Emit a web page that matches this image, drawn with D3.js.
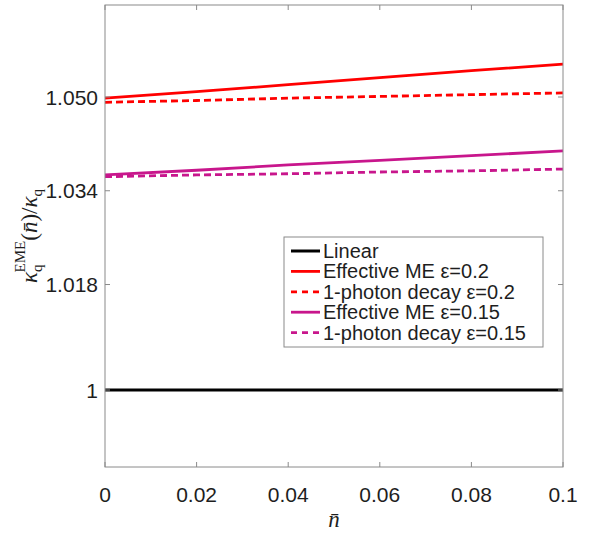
<!doctype html>
<html>
<head>
<meta charset="utf-8">
<style>
  body { margin: 0; background: #fff; }
  text { font-family: "Liberation Sans", Arial, sans-serif; fill: #1e1e1e; }
</style>
</head>
<body>
<div id="chart"></div>
<script src="https://d3js.org/d3.v7.min.js"></script>
<script>
// values
var nbar = [0, 0.02, 0.04, 0.06, 0.08, 0.1];
var linear = [1, 1, 1, 1, 1, 1];
var effME02 = [1.0498, 1.0509, 1.0521, 1.0533, 1.0545, 1.0556];
var decay02 = [1.0491, 1.0494, 1.0498, 1.0501, 1.0504, 1.0507];
var effME015 = [1.0367, 1.0375, 1.0384, 1.0392, 1.0400, 1.0408];
var decay015 = [1.0364, 1.0367, 1.0369, 1.0372, 1.0374, 1.0377];
var xTicks = [0, 0.02, 0.04, 0.06, 0.08, 0.1];
var xTickLabels = ['0', '0.02', '0.04', '0.06', '0.08', '0.1'];
var yTicks = [1, 1.018, 1.034, 1.050];
var yTickLabels = ['1', '1.018', '1.034', '1.050'];
var names = ['Linear', 'Effective ME \u03b5=0.2', '1-photon decay \u03b5=0.2',
             'Effective ME \u03b5=0.15', '1-photon decay \u03b5=0.15'];

var series = [
  { name: names[0], vals: linear, color: '#000000', dash: null, w: 3 },
  { name: names[1], vals: effME02, color: '#ff0000', dash: null, w: 2.8 },
  { name: names[2], vals: decay02, color: '#ff0000', dash: '7,4', w: 2.8 },
  { name: names[3], vals: effME015, color: '#c8168c', dash: null, w: 2.8 },
  { name: names[4], vals: decay015, color: '#c8168c', dash: '7,4', w: 2.8 }
];

var width = 593, height = 535;
var pLeft = 105, pRight = 563, pTop = 5, pBottom = 467;

var svg = d3.select('#chart').append('svg')
  .attr('width', width)
  .attr('height', height);

var x = d3.scaleLinear().domain([0, 0.1]).range([pLeft, pRight]);
var y = d3.scaleLinear().domain([0.98686, 1.0657]).range([pBottom, pTop]);

// lines
var line = d3.line()
  .x(function(d) { return x(d[0]); })
  .y(function(d) { return y(d[1]); });

series.forEach(function(s) {
  svg.append('path')
    .attr('d', line(nbar.map(function(v, i) { return [v, s.vals[i]]; })))
    .attr('fill', 'none')
    .attr('stroke', s.color)
    .attr('stroke-width', s.w)
    .attr('stroke-dasharray', s.dash);
});

// box + ticks
var axisColor = '#8a8a8a';
svg.append('rect')
  .attr('x', pLeft).attr('y', pTop)
  .attr('width', pRight - pLeft).attr('height', pBottom - pTop)
  .attr('fill', 'none').attr('stroke', axisColor).attr('stroke-width', 1);

var tl = 5;
xTicks.forEach(function(t, i) {
  svg.append('line').attr('x1', x(t)).attr('x2', x(t))
    .attr('y1', pBottom).attr('y2', pBottom - tl).attr('stroke', axisColor);
  svg.append('line').attr('x1', x(t)).attr('x2', x(t))
    .attr('y1', pTop).attr('y2', pTop + tl).attr('stroke', axisColor);
  svg.append('text')
    .attr('x', x(t)).attr('y', 502)
    .attr('text-anchor', 'middle')
    .style('font-size', '21px')
    .text(xTickLabels[i]);
});
yTicks.forEach(function(t, i) {
  svg.append('line').attr('x1', pLeft).attr('x2', pLeft + tl)
    .attr('y1', y(t)).attr('y2', y(t)).attr('stroke', axisColor);
  svg.append('line').attr('x1', pRight).attr('x2', pRight - tl)
    .attr('y1', y(t)).attr('y2', y(t)).attr('stroke', axisColor);
  svg.append('text')
    .attr('x', pLeft - 7).attr('y', y(t) + 7.5)
    .attr('text-anchor', 'end')
    .style('font-size', '21px')
    .text(yTickLabels[i]);
});

// axis labels
svg.append('text')
  .attr('x', x(0.05)).attr('y', 527)
  .attr('text-anchor', 'middle')
  .style('font-family', '"Liberation Serif", serif')
  .style('font-style', 'italic')
  .style('font-size', '23px')
  .text('n\u0304');

var yl = svg.append('text')
  .attr('transform', 'translate(37,236) rotate(-90)')
  .attr('text-anchor', 'middle')
  .style('font-family', '"Liberation Serif", serif')
  .style('font-size', '23px');
yl.append('tspan').style('font-style', 'italic').text('\u03ba');
yl.append('tspan').attr('dy', 5).style('font-size', '15px').text('q');
yl.append('tspan').attr('dx', -8).attr('dy', -17).style('font-size', '15px').text('EME');
yl.append('tspan').attr('dy', 12).text('(');
yl.append('tspan').style('font-style', 'italic').text('n\u0304');
yl.append('tspan').text(')/');
yl.append('tspan').style('font-style', 'italic').text('\u03ba');
yl.append('tspan').attr('dy', 5).style('font-size', '15px').text('q');

// legend
var lg = svg.append('g');
lg.append('rect')
  .attr('x', 284).attr('y', 237).attr('width', 259).attr('height', 110)
  .attr('fill', '#fff').attr('stroke', axisColor).attr('stroke-width', 1);
series.forEach(function(s, i) {
  var yy = 251 + i * 20.4;
  lg.append('line')
    .attr('x1', 291).attr('x2', 320).attr('y1', yy).attr('y2', yy)
    .attr('stroke', s.color).attr('stroke-width', s.w)
    .attr('stroke-dasharray', s.dash ? '6,5' : null);
  lg.append('text')
    .attr('x', 323).attr('y', yy + 7)
    .style('font-size', '20px')
    .text(s.name);
});
</script>
</body>
</html>
